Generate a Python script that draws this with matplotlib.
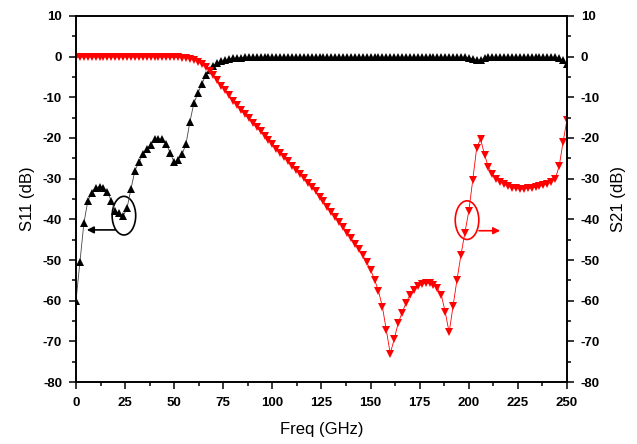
import matplotlib
matplotlib.use('Agg')
import matplotlib.pyplot as plt
from matplotlib.patches import Ellipse
import numpy as np

plt.rcParams['font.family'] = ['Liberation Sans', 'DejaVu Sans']
plt.rcParams['axes.unicode_minus'] = False

# frequency grid (GHz)
freq = np.arange(0, 252, 2)

# S11 (black, left axis)
s11 = [-60, -50.5, -41, -35.5, -33.5, -32.2, -32, -32.2, -33.3, -35.5,
       -38, -38.5, -39.2, -37.2, -32.5, -28, -26, -24, -22.8, -21.8,
       -20.3, -20.2, -20.3, -21.5, -23.7, -26, -25.5, -24, -21.5, -16,
       -11.5, -9, -6.8, -4.6, -3.2, -2.2, -1.6, -1.1, -0.8, -0.6,
       -0.45, -0.35, -0.3,
       # 86 .. 198
       -0.2, -0.2, -0.2, -0.2, -0.2, -0.2, -0.2, -0.2, -0.2, -0.2,
       -0.2, -0.2, -0.2, -0.2, -0.2, -0.2, -0.2, -0.2, -0.2, -0.2,
       -0.2, -0.2, -0.2, -0.2, -0.2, -0.2, -0.2, -0.2, -0.2, -0.2,
       -0.2, -0.2, -0.2, -0.2, -0.2, -0.2, -0.2, -0.2, -0.2, -0.2,
       -0.2, -0.2, -0.2, -0.2, -0.2, -0.2, -0.2, -0.2, -0.2, -0.2,
       -0.2, -0.2, -0.2, -0.2, -0.2, -0.2, -0.2,
       # 200 .. 208
       -0.3, -0.5, -0.9, -0.8, -0.4,
       # 210 .. 244
       -0.2, -0.2, -0.2, -0.2, -0.2, -0.2, -0.2, -0.2, -0.2, -0.2,
       -0.2, -0.2, -0.2, -0.2, -0.2, -0.2, -0.2, -0.2,
       -0.4, -0.9, -1.8]

# S21 (red, right axis)
s21 = [-0.1, -0.1, -0.1, -0.1, -0.1, -0.1, -0.1, -0.1, -0.1, -0.1,
       -0.1, -0.1, -0.1, -0.1, -0.1, -0.1, -0.1, -0.1, -0.1, -0.1,
       -0.1, -0.1, -0.1, -0.1, -0.15, -0.15, -0.2, -0.25,
       -0.3, -0.5, -0.8, -1.2, -1.8, -2.6, -3.5, -4.6, -5.8, -7.2,
       -8.3, -9.5, -10.9, -12.0, -13.1, -14.2, -15.2, -16.3, -17.3, -18.4,
       -19.4, -20.5, -21.5, -22.6, -23.6, -24.7, -25.7, -26.8, -27.8, -28.9,
       -29.9, -31.0, -32.0, -33.1, -34.4, -35.6, -36.9, -38.1, -39.4, -40.7,
       -41.9, -43.3, -44.6, -46.0, -47.4, -48.8, -50.6, -52.4, -54.8, -57.6,
       -61.5, -67.2, -73.0, -69.5, -65.6, -63.0, -60.6, -58.6, -57.3, -56.5,
       -56.0, -55.7, -55.7, -56.1, -56.9, -58.6, -62.8, -67.8, -61.3, -54.8,
       -48.8, -43.3, -38.0, -30.4, -22.5, -20.2, -24.1, -27.2, -28.8, -30.0,
       -30.8, -31.4, -31.9, -32.2, -32.4, -32.5, -32.5, -32.4, -32.3, -32.1,
       -31.9, -31.6, -31.3, -30.8, -30.0, -27.0, -21.0, -15.5]

xticks = [0, 25, 50, 75, 100, 125, 150, 175, 200, 225, 250]
yticks = [10, 0, -10, -20, -30, -40, -50, -60, -70, -80]

fig = plt.figure(figsize=(6.37, 4.44), dpi=100)
ax = fig.add_axes([0.1193, 0.1396, 0.7708, 0.8244])
ax2 = ax.twinx()

ax.plot(freq, s11, color='#444444', lw=0.6, marker='^', ms=6,
        mfc='black', mec='black', mew=0)
ax2.plot(freq, s21, color='red', lw=0.6, marker='v', ms=6,
         mfc='red', mec='red', mew=0)

for a in (ax, ax2):
    a.set_xlim(0, 250)
    a.set_ylim(-80, 10)
    a.set_yticks(yticks)
    a.set_yticks(np.arange(-75, 10, 10), minor=True)
    for s in a.spines.values():
        s.set_linewidth(1.2)
    a.tick_params(which='both', direction='out', width=1.1, labelsize=9.5, pad=5)
    a.tick_params(which='major', length=5)
    a.tick_params(which='minor', length=3)
ax.set_xticks(xticks)
ax.set_xticks(np.arange(12.5, 250, 25), minor=True)
ax.tick_params(axis='x', pad=6)

for lab in ax.get_xticklabels() + ax.get_yticklabels() + ax2.get_yticklabels():
    lab.set_fontweight('bold')

ax.set_xlabel('Freq (GHz)', fontsize=12, labelpad=9)
ax.set_ylabel('S11 (dB)', fontsize=12, labelpad=6)
ax2.set_ylabel('S21 (dB)', fontsize=12, labelpad=8)

# markers pointing to each curve's axis
ax.add_patch(Ellipse((24.4, -39.1), 12, 9.5, fill=False, ec='black', lw=1.2))
ax.annotate('', xy=(5.5, -42.6), xytext=(20, -42.6),
            arrowprops=dict(arrowstyle='-|>', color='black', lw=1.2,
                            mutation_scale=10, shrinkA=0, shrinkB=0))
ax2.add_patch(Ellipse((199.1, -40.2), 12, 9.5, fill=False, ec='red', lw=1.2))
ax2.annotate('', xy=(216, -42.8), xytext=(205.2, -42.8),
             arrowprops=dict(arrowstyle='-|>', color='red', lw=1.2,
                             mutation_scale=10, shrinkA=0, shrinkB=0))

fig.savefig('out.png', dpi=100)
